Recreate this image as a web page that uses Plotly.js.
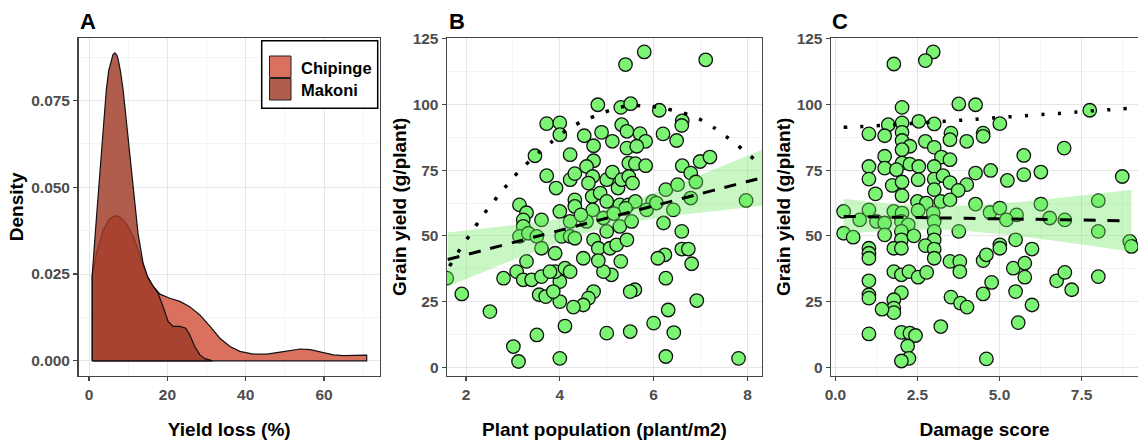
<!DOCTYPE html>
<html>
<head>
<meta charset="utf-8">
<script src="https://cdn.plot.ly/plotly-3.0.1.min.js"></script>
<style>html,body{margin:0;padding:0;background:#fff;}#chart{width:1138px;height:441px;}</style>
</head>
<body>
<div id="chart"></div>
<script>
// ---------- Panel A: density of yield loss ----------
const chipingeX = [0.8, 0.8, 1.9, 3.6, 5.3, 6.6, 7.8, 9.5, 11.3, 13.0, 14.7, 16.4, 18.1, 20.6, 23.2, 25.7, 28.3, 30.9, 33.4, 36.0, 38.5, 41.9, 45.4, 48.8, 52.2, 53.9, 56.5, 59.0, 62.4, 65.0, 67.5, 70.9, 70.9, 0.8];
const chipingeY = [0, 0.0243, 0.031, 0.0377, 0.041, 0.0418, 0.0415, 0.0396, 0.0358, 0.0305, 0.0247, 0.0214, 0.0192, 0.018, 0.0171, 0.0156, 0.0132, 0.0099, 0.0065, 0.0041, 0.0027, 0.0019, 0.0019, 0.0025, 0.0032, 0.0034, 0.0032, 0.0025, 0.0017, 0.0015, 0.0016, 0.0016, 0, 0];
const makoniX = [0.8, 0.8, 1.9, 3.2, 4.4, 5.0, 5.7, 6.1, 6.6, 7.1, 7.4, 8.0, 8.7, 10.0, 11.3, 12.5, 13.8, 15.1, 16.4, 17.6, 18.9, 20.2, 21.5, 23.2, 24.7, 25.7, 27.0, 28.3, 29.6, 30.9, 31.5, 0.8];
const makoniY = [0, 0.0247, 0.0415, 0.0607, 0.078, 0.0835, 0.087, 0.0882, 0.0887, 0.0880, 0.087, 0.0835, 0.078, 0.0636, 0.0492, 0.0367, 0.0281, 0.0238, 0.0214, 0.0195, 0.0156, 0.0113, 0.0099, 0.0099, 0.0094, 0.0075, 0.0041, 0.0017, 0.0006, 0.0001, 0, 0];
const locations = ['Chipinge', 'Makoni'];

// ---------- Panel B: plant population vs grain yield ----------
const popX = [5.80,5.40,7.11,4.81,5.30,5.51,6.12,6.61,6.60,3.72,4.00,4.00,4.52,4.89,4.72,5.12,5.32,5.43,5.71,5.83,5.43,5.64,6.20,6.49,3.47,4.22,4.72,5.47,5.61,5.83,6.61,6.99,7.20,3.72,3.92,4.22,4.32,4.57,4.70,4.61,5.00,5.12,5.24,5.32,5.47,5.55,4.69,4.86,5.00,5.28,5.46,5.61,6.26,6.51,6.79,6.90,6.79,7.97,5.98,4.32,4.32,3.14,3.29,3.22,3.61,3.22,3.14,3.33,3.51,3.61,4.00,4.22,4.04,4.22,4.32,4.70,4.57,4.93,5.00,4.72,4.82,5.07,5.21,5.43,5.28,5.53,5.40,5.85,6.06,6.42,6.21,6.60,6.60,6.74,6.81,6.24,6.09,6.26,6.92,6.31,6.00,6.43,6.26,7.81,5.60,5.50,5.50,5.00,5.30,5.10,4.93,4.82,4.50,4.72,4.61,4.50,4.29,4.00,4.11,4.00,4.00,3.90,4.11,4.22,3.90,3.29,3.08,3.22,3.40,3.61,2.80,3.79,3.56,3.70,3.86,1.91,2.51,3.51,3.01,3.12,1.59,5.15,4.45];
const popYield = [120.0,115.2,117.0,99.9,98.9,100.3,97.8,93.8,92.0,92.7,93.0,88.5,88.1,89.4,84.3,86.0,92.3,89.8,88.9,86.0,83.4,84.1,88.8,86.3,80.5,80.9,78.6,77.7,77.5,76.7,76.7,78.3,80.0,72.9,68.2,71.4,73.7,76.4,72.6,70.1,71.4,74.3,68.2,71.4,72.6,70.1,65.0,66.3,63.1,61.8,61.8,63.1,67.6,69.5,73.9,70.5,64.4,63.5,63.1,63.7,61.2,61.8,58.8,56.1,56.1,53.6,49.8,51.0,49.8,45.3,59.3,55.5,49.8,49.8,49.1,59.9,55.5,56.8,51.7,48.5,45.3,45.3,46.6,48.5,53.6,55.5,60.5,59.9,62.5,59.9,54.9,51.7,45.0,45.0,39.4,42.8,41.5,33.9,25.4,21.8,16.8,13.2,4.1,3.4,29.5,28.8,13.6,13.0,40.3,35.2,36.4,40.6,41.5,28.8,26.3,23.7,22.9,25.0,15.7,3.4,32.6,36.4,37.7,36.4,43.4,40.3,36.4,33.3,33.3,34.5,33.9,36.4,27.6,26.9,28.8,27.9,21.2,12.3,7.9,2.2,33.9,58.5,58.0];
// linear fit (dashed) with confidence band
const popFitX = [1.61, 2, 2.5, 3, 3.5, 4, 4.5, 4.9, 5.5, 6, 6.5, 7, 7.5, 8, 8.31];
const popFit = [40.99, 42.8, 45.13, 47.45, 49.78, 52.1, 54.43, 56.29, 59.08, 61.4, 63.73, 66.05, 68.38, 70.7, 72.14];
const popUpper = [51.3, 52.0, 53.0, 54.05, 55.19, 56.49, 58.12, 59.79, 63.0, 66.17, 69.6, 73.15, 76.8, 80.48, 82.77];
const popLower = [30.7, 33.57, 37.25, 40.85, 44.37, 47.71, 50.74, 52.79, 55.16, 56.63, 57.86, 58.95, 59.96, 60.92, 61.51];
// quadratic fit (dotted)
const popCurveX = [1.65, 1.91, 2.12, 2.33, 2.55, 2.78, 3.01, 3.27, 3.54, 3.84, 4.18, 4.52, 4.86, 5.21, 5.58, 5.94, 6.28, 6.62, 6.97, 7.30, 7.59, 7.89, 8.18, 8.31];
const popCurve = [38.5, 46.0, 51.4, 57.1, 62.2, 67.3, 72.3, 77.1, 81.5, 86.0, 90.7, 94.0, 96.4, 98.7, 99.6, 99.3, 98.3, 96.8, 94.5, 91.0, 87.2, 83.0, 78.6, 76.8];

// ---------- Panel C: damage score vs grain yield ----------
const dmgX = [2.98,2.74,1.78,3.76,4.27,7.75,2.03,1.61,2.03,2.54,3.01,1.02,1.50,2.03,3.52,3.49,4.00,4.50,4.50,5.01,2.03,2.27,2.74,3.01,2.03,1.50,3.23,3.49,5.74,6.97,1.02,1.50,2.03,2.27,2.54,3.01,1.02,1.86,2.52,3.01,3.28,3.49,4.00,4.27,4.73,5.24,5.74,6.26,8.74,1.73,2.03,3.01,3.74,1.22,2.03,2.50,2.77,3.21,3.49,4.27,6.26,8.01,0.25,1.02,1.78,2.03,2.52,2.98,4.71,5.01,5.52,0.74,1.25,1.50,2.01,2.22,3.01,5.21,6.53,6.99,8.01,8.97,9.02,0.25,0.54,1.50,2.01,2.01,2.39,3.01,3.01,3.76,1.02,1.02,1.02,1.78,2.01,2.74,3.01,3.01,3.49,3.79,3.79,4.50,4.60,5.01,5.01,5.49,5.99,5.42,5.77,5.77,4.76,4.50,5.49,5.99,5.57,6.74,6.99,7.20,8.01,1.78,2.01,2.24,2.52,2.78,1.02,1.02,1.02,2.01,1.78,1.78,1.78,1.42,3.52,3.81,4.01,3.21,1.02,2.01,2.27,2.44,2.20,2.24,2.01,4.60];
const dmgYield = [120.0,116.7,115.4,100.2,99.9,97.8,98.9,92.3,93.0,93.6,92.6,88.8,88.1,89.4,89.1,86.6,86.0,89.1,87.9,92.7,86.3,84.1,86.0,83.7,82.8,80.3,80.0,79.0,80.6,83.4,76.4,75.8,77.7,77.3,76.4,76.4,71.6,75.2,71.4,71.6,72.9,70.3,69.5,73.9,74.9,71.1,73.3,74.3,72.6,69.2,70.5,67.6,67.3,66.0,65.3,63.1,62.5,63.1,63.7,62.1,62.1,63.4,59.3,59.9,59.3,58.7,59.7,58.7,58.9,60.6,58.0,56.1,55.5,54.9,55.5,54.2,55.5,56.1,56.8,56.1,51.7,47.9,46.0,51.0,49.5,50.4,51.7,48.5,50.0,51.7,48.5,51.7,45.3,43.4,41.5,45.3,45.3,46.3,45.0,41.5,40.3,40.3,36.4,40.6,42.8,46.6,45.3,48.5,45.0,37.7,39.6,34.3,32.3,27.9,28.8,23.7,17.0,32.9,36.1,29.5,34.5,36.4,35.2,36.4,34.3,36.1,32.9,27.6,26.3,28.4,25.7,22.5,20.8,22.1,26.7,24.4,22.9,15.5,12.7,13.3,13.0,12.1,8.1,3.4,2.4,3.2];
const dmgFitX = [0.25, 1, 2, 3, 4, 5, 6, 7, 8, 9.02];
const dmgFit = [57.40, 57.26, 57.07, 56.88, 56.69, 56.5, 56.31, 56.12, 55.93, 55.74];
const dmgUpper = [64.1, 63.0, 61.9, 61.35, 61.52, 62.26, 63.35, 64.64, 66.03, 67.54];
const dmgLower = [50.7, 51.5, 52.24, 52.41, 51.86, 50.74, 49.27, 47.6, 45.83, 43.94];
const dmgCurveX = [0.25, 0.81, 1.35, 1.86, 2.35, 3.31, 3.82, 4.30, 4.81, 5.29, 5.80, 6.31, 6.82, 7.33, 7.80, 8.33, 9.02];
const dmgCurve = [91.3, 91.6, 92.0, 92.4, 92.8, 93.6, 94.0, 94.4, 94.9, 95.3, 95.7, 96.2, 96.6, 97.1, 97.6, 98.0, 98.6];

// ---------- styles ----------
const W = 1138, H = 441;
const FAM = 'Liberation Sans, Arial, sans-serif';
const ptColor = '#7AF472';
const ribbonColor = 'rgba(110,235,100,0.38)';
const chipFill = '#D9715E';
const makoFill = 'rgba(159,57,39,0.82)';
const makoKey = '#B05D4E';
const tickFont = {family: FAM, size: 15.5, color: '#4d4d4d', weight: 'bold'};
const titleFont = {family: FAM, size: 19, color: '#000', weight: 'bold'};
const yDom = [1 - 375.7 / H, 1 - 38 / H];

function axis(extra) {
  return Object.assign({
    showline: true, linecolor: '#444', linewidth: 1.4, mirror: true,
    ticks: 'outside', ticklen: 4, tickwidth: 1.2, tickcolor: '#444',
    tickfont: tickFont, showgrid: true, gridcolor: '#e6e6e6', gridwidth: 1,
    zeroline: false, automargin: false, fixedrange: true
  }, extra);
}
function minorGrid(vals) {
  return {tickvals: vals, showgrid: true, gridcolor: '#f1f1f1', gridwidth: 0.8, ticks: ''};
}
function ribbon(xs, up, lo, xa, ya) {
  return {
    x: xs.concat(xs.slice().reverse()), y: up.concat(lo.slice().reverse()),
    type: 'scatter', mode: 'lines', fill: 'toself', fillcolor: ribbonColor,
    line: {width: 0, color: 'rgba(0,0,0,0)'}, hoverinfo: 'skip', showlegend: false, xaxis: xa, yaxis: ya
  };
}
function points(xs, ys, xa, ya) {
  return {
    x: xs, y: ys, type: 'scatter', mode: 'markers', showlegend: false, xaxis: xa, yaxis: ya,
    marker: {size: 13.5, color: ptColor, line: {color: '#111', width: 1.3}}
  };
}
function fitLine(xs, ys, dash, width, xa, ya) {
  return {
    x: xs, y: ys, type: 'scatter', mode: 'lines', showlegend: false, xaxis: xa, yaxis: ya,
    line: {color: '#000', width: width, dash: dash, shape: 'spline', smoothing: 0.6}, hoverinfo: 'skip'
  };
}

const traces = [
  {x: chipingeX, y: chipingeY, name: locations[0], type: 'scatter', mode: 'lines', fill: 'toself', showlegend: false,
   fillcolor: chipFill, line: {color: '#111', width: 1.2}, xaxis: 'x', yaxis: 'y'},
  {x: makoniX, y: makoniY, name: locations[1], type: 'scatter', mode: 'lines', fill: 'toself', showlegend: false,
   fillcolor: makoFill, line: {color: '#111', width: 1.2}, xaxis: 'x', yaxis: 'y'},
  points(popX, popYield, 'x2', 'y2'),
  ribbon(popFitX, popUpper, popLower, 'x2', 'y2'),
  fitLine(popFitX, popFit, '12px,10px', 3, 'x2', 'y2'),
  fitLine(popCurveX, popCurve, '3.5px,12.5px', 3.5, 'x2', 'y2'),
  points(dmgX, dmgYield, 'x3', 'y3'),
  ribbon(dmgFitX, dmgUpper, dmgLower, 'x3', 'y3'),
  fitLine(dmgFitX, dmgFit, '12px,12px', 3, 'x3', 'y3'),
  fitLine(dmgCurveX, dmgCurve, '3.5px,13px', 3.5, 'x3', 'y3')
];

// legend for panel A (box, keys and labels)
const px = v => v / W, py = v => 1 - v / H;
const legendShapes = [
  {type: 'rect', xref: 'paper', yref: 'paper', x0: px(261.7), x1: px(377.7), y0: py(108.3), y1: py(40.7),
   line: {color: '#000', width: 1.5}, fillcolor: '#fff', layer: 'above'},
  {type: 'rect', xref: 'paper', yref: 'paper', x0: px(269.5), x1: px(291), y0: py(77.5), y1: py(56),
   line: {color: '#222', width: 1}, fillcolor: chipFill, layer: 'above'},
  {type: 'rect', xref: 'paper', yref: 'paper', x0: px(269.5), x1: px(291), y0: py(100), y1: py(78.5),
   line: {color: '#222', width: 1}, fillcolor: makoKey, layer: 'above'}
];
const legendLabels = [
  {text: locations[0], x: px(299), y: py(67.5)},
  {text: locations[1], x: px(299), y: py(90)}
].map(a => Object.assign(a, {xref: 'paper', yref: 'paper', xanchor: 'left', yanchor: 'middle', showarrow: false,
  font: {family: FAM, size: 16.5, color: '#000', weight: 'bold'}}));

const panelLetters = [['A', 78], ['B', 447], ['C', 830]].map(([t, x]) => ({
  text: t, x: px(x), y: py(21), xref: 'paper', yref: 'paper', xanchor: 'left', yanchor: 'middle', showarrow: false,
  font: {family: FAM, size: 22, color: '#000', weight: 'bold'}
}));

const layout = {
  width: W, height: H,
  margin: {l: 0, r: 0, t: 0, b: 0},
  paper_bgcolor: '#fff', plot_bgcolor: '#fff',
  font: {family: FAM},
  showlegend: false,
  xaxis: axis({domain: [78.5 / W, 380 / W], range: [-2.7, 74.3], tickvals: [0, 20, 40, 60],
    minor: minorGrid([10, 30, 50, 70]),
    anchor: 'y', title: {text: 'Yield loss (%)', font: titleFont, standoff: 21}}),
  yaxis: axis({domain: yDom, range: [-0.0043, 0.0930], tickvals: [0, 0.025, 0.05, 0.075], tickformat: '.3f',
    minor: minorGrid([0.0125, 0.0375, 0.0625, 0.0875]),
    anchor: 'x', title: {text: 'Density', font: titleFont, standoff: 2}}),
  xaxis2: axis({domain: [447 / W, 762 / W], range: [1.595, 8.31], tickvals: [2, 4, 6, 8],
    minor: minorGrid([3, 5, 7]),
    anchor: 'y2', title: {text: 'Plant population (plant/m2)', font: titleFont, standoff: 21}}),
  yaxis2: axis({domain: yDom, range: [-3.2, 125.3], tickvals: [0, 25, 50, 75, 100, 125],
    minor: minorGrid([12.5, 37.5, 62.5, 87.5, 112.5]),
    anchor: 'x2', title: {text: 'Grain yield (g/plant)', font: titleFont, standoff: 1}}),
  xaxis3: axis({domain: [831 / W, 1], range: [-0.135, 9.22], tickvals: [0, 2.5, 5, 7.5], ticktext: ['0.0', '2.5', '5.0', '7.5'],
    minor: minorGrid([1.25, 3.75, 6.25, 8.75]),
    anchor: 'y3', title: {text: 'Damage score', font: titleFont, standoff: 21}}),
  yaxis3: axis({domain: yDom, range: [-3.2, 125.3], tickvals: [0, 25, 50, 75, 100, 125], mirror: false,
    minor: minorGrid([12.5, 37.5, 62.5, 87.5, 112.5]),
    anchor: 'x3', title: {text: 'Grain yield (g/plant)', font: titleFont, standoff: 1}}),
  shapes: legendShapes,
  annotations: panelLetters.concat(legendLabels)
};

Plotly.newPlot('chart', traces, layout, {staticPlot: true, displayModeBar: false});
</script>
</body>
</html>
